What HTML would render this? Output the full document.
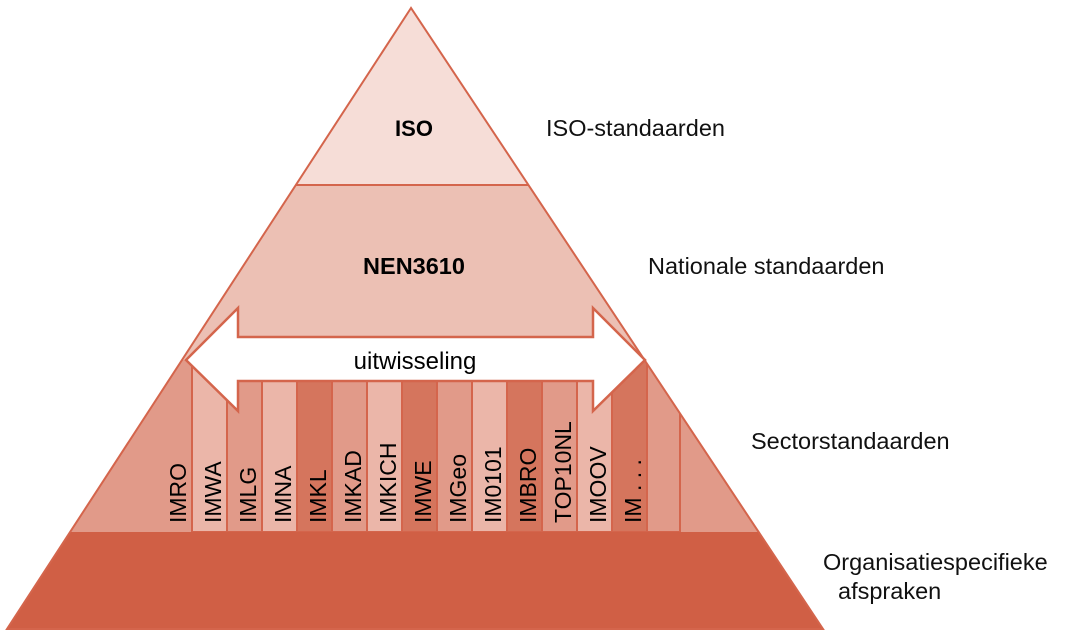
<!DOCTYPE html>
<html><head><meta charset="utf-8"><style>
body{margin:0;background:#fff;}
svg{display:block;font-family:"Liberation Sans","DejaVu Sans",sans-serif;}
</style></head><body>
<svg width="1065" height="635" viewBox="0 0 1065 635">
<defs><clipPath id="tri"><polygon points="411,8 7,629 823,629"/></clipPath></defs>
<g clip-path="url(#tri)">
<rect x="0" y="0" width="900" height="185" fill="#f6ddd7"/>
<rect x="0" y="185" width="900" height="175" fill="#ecc0b4"/>
<rect x="0" y="360" width="900" height="172" fill="#e19a89"/>
<g stroke="#d4654c" stroke-width="2">
<rect x="192" y="360" width="35" height="172" fill="#ebb6a9"/>
<rect x="227" y="360" width="35" height="172" fill="#e19a89"/>
<rect x="262" y="360" width="35" height="172" fill="#ebb6a9"/>
<rect x="297" y="360" width="35" height="172" fill="#d5755d"/>
<rect x="332" y="360" width="35" height="172" fill="#e19a89"/>
<rect x="367" y="360" width="35" height="172" fill="#ebb6a9"/>
<rect x="402" y="360" width="35" height="172" fill="#d5755d"/>
<rect x="437" y="360" width="35" height="172" fill="#e19a89"/>
<rect x="472" y="360" width="35" height="172" fill="#ebb6a9"/>
<rect x="507" y="360" width="35" height="172" fill="#d5755d"/>
<rect x="542" y="360" width="35" height="172" fill="#e19a89"/>
<rect x="577" y="360" width="35" height="172" fill="#ebb6a9"/>
<rect x="612" y="360" width="35" height="172" fill="#d5755d"/>
<rect x="647" y="360" width="33" height="172" fill="#e19a89"/>
</g>
<rect x="0" y="532" width="900" height="100" fill="#d05f45"/>
<line x1="0" y1="185" x2="900" y2="185" stroke="#d4654c" stroke-width="2"/>
</g>
<polygon points="411,8 7,629 823,629" fill="none" stroke="#d4654c" stroke-width="2"/>
<polygon points="186,360 238,308 238,337 593,337 593,308 645,360 593,411 593,381 238,381 238,411" fill="#fff" stroke="#d4654c" stroke-width="2.5"/>
<text x="414" y="136" font-size="22" font-weight="bold" text-anchor="middle">ISO</text>
<text x="414" y="274" font-size="23.5" font-weight="bold" text-anchor="middle">NEN3610</text>
<text x="415" y="369" font-size="24" text-anchor="middle">uitwisseling</text>
<g font-size="23">
<text transform="translate(186,523) rotate(-90)">IMRO</text>
<text transform="translate(221,523) rotate(-90)">IMWA</text>
<text transform="translate(256,523) rotate(-90)">IMLG</text>
<text transform="translate(291,523) rotate(-90)">IMNA</text>
<text transform="translate(326,523) rotate(-90)">IMKL</text>
<text transform="translate(361,523) rotate(-90)">IMKAD</text>
<text transform="translate(396,523) rotate(-90)">IMKICH</text>
<text transform="translate(431,523) rotate(-90)">IMWE</text>
<text transform="translate(466,523) rotate(-90)">IMGeo</text>
<text transform="translate(501,523) rotate(-90)">IM0101</text>
<text transform="translate(536,523) rotate(-90)">IMBRO</text>
<text transform="translate(571,523) rotate(-90)">TOP10NL</text>
<text transform="translate(606,523) rotate(-90)">IMOOV</text>
<text transform="translate(641,523) rotate(-90)">IM . . .</text>
</g>
<g font-size="23.5" fill="#111">
<text x="546" y="136">ISO-standaarden</text>
<text x="648" y="274">Nationale standaarden</text>
<text x="751" y="449">Sectorstandaarden</text>
<text x="823" y="570">Organisatiespecifieke</text>
<text x="838" y="599">afspraken</text>
</g>
</svg>
</body></html>
